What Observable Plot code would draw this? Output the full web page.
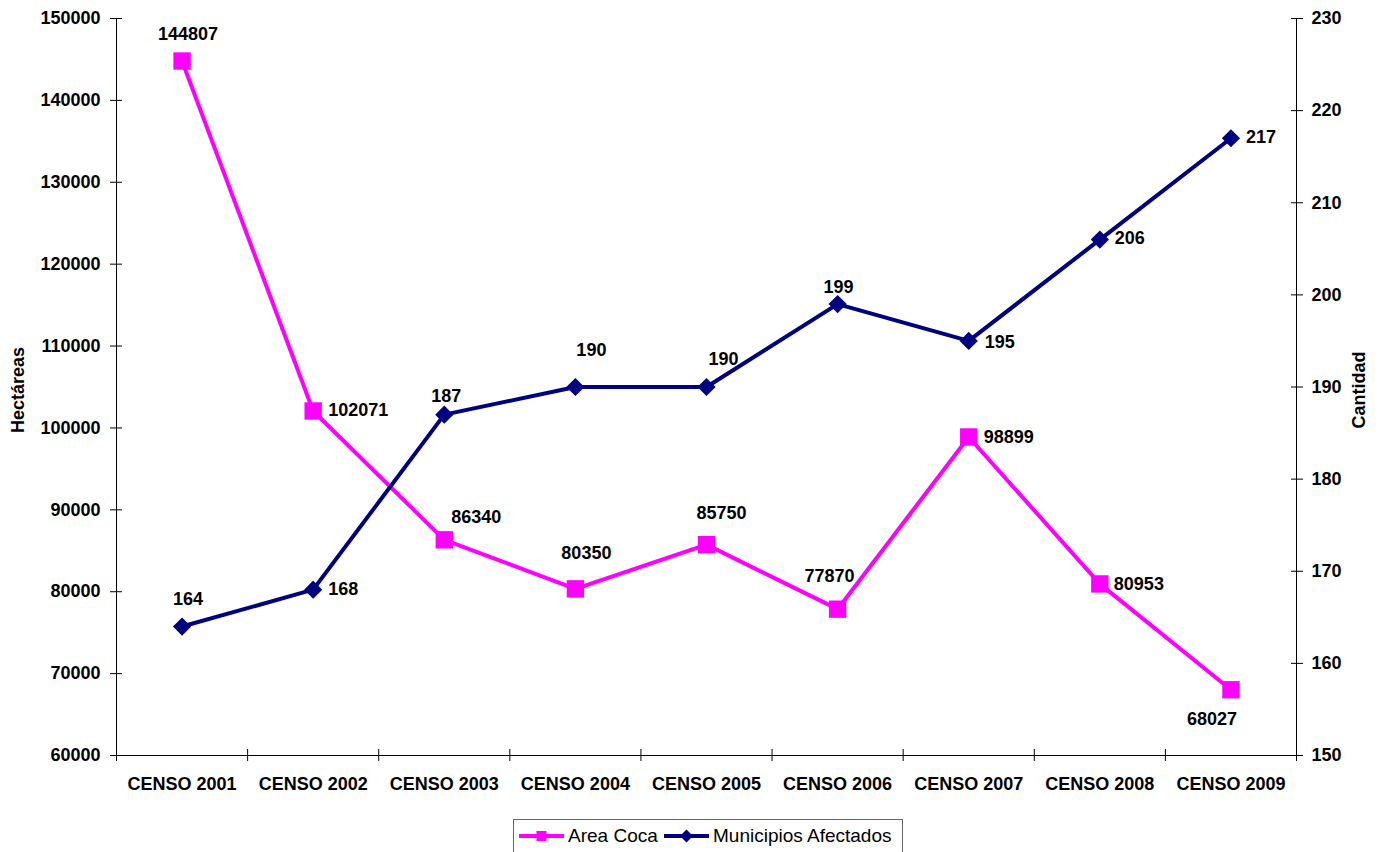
<!DOCTYPE html>
<html>
<head>
<meta charset="utf-8">
<script src="https://cdn.jsdelivr.net/npm/d3@7"></script>
<script src="https://cdn.jsdelivr.net/npm/@observablehq/plot@0.6"></script>
<style>
  html, body { margin: 0; padding: 0; background: #fff; }
  #wrap { position: relative; width: 1384px; height: 852px; overflow: hidden; font-family: "Liberation Sans", Arial, sans-serif; }
  #legend { position: absolute; left: 513px; top: 819px; width: 390px; height: 44px; box-sizing: border-box;
            border: 1px solid #666; background: #fff; }
  #legend .item { position: absolute; top: 4px; height: 24px; display: flex; align-items: center; font-size: 19px; color: #000; white-space: nowrap; }
  #legend svg { display: block; margin-right: 4px; }
</style>
</head>
<body>
<div id="wrap">
  <div id="chart"></div>
  <div id="legend"></div>
</div>
<script>
// ---- data ----
const categories = ["CENSO 2001", "CENSO 2002", "CENSO 2003", "CENSO 2004", "CENSO 2005", "CENSO 2006", "CENSO 2007", "CENSO 2008", "CENSO 2009"];
const areaCoca = [144807, 102071, 86340, 80350, 85750, 77870, 98899, 80953, 68027];
const municipios = [164, 168, 187, 190, 190, 199, 195, 206, 217];
const leftTicks = [60000, 70000, 80000, 90000, 100000, 110000, 120000, 130000, 140000, 150000];
const rightTicks = [150, 160, 170, 180, 190, 200, 210, 220, 230];
const seriesNames = ["Area Coca", "Municipios Afectados"];

// label placement (anchor, dx, dy) – layout only
const cocaLabelPlacement = [["middle", 6, -27], ["start", 15, -1], ["middle", 32, -23], ["middle", 11, -36], ["middle", 15, -31], ["middle", -8, -33], ["start", 15, 0], ["start", 14, 0], ["middle", -19, 29]];
const muniLabelPlacement = [["middle", 6, -27], ["start", 15, 0], ["middle", 2, -18], ["middle", 16, -37], ["middle", 17, -28], ["middle", 1, -17], ["start", 16, 1], ["start", 15, -1], ["start", 15, -1]];

const MAGENTA = "#FF00FF";
const NAVY = "#000080";

// secondary axis mapping onto the primary scale
const L0 = leftTicks[0], L1 = leftTicks[leftTicks.length - 1];
const R0 = rightTicks[0], R1 = rightTicks[rightTicks.length - 1];
const toLeft = v => L0 + (v - R0) * (L1 - L0) / (R1 - R0);
const fromLeft = v => R0 + (v - L0) * (R1 - R0) / (L1 - L0);

const cocaData = categories.map((c, i) => ({i, cat: c, value: areaCoca[i], y: areaCoca[i], anchor: cocaLabelPlacement[i][0], dx: cocaLabelPlacement[i][1], dy: cocaLabelPlacement[i][2]}));
const muniData = categories.map((c, i) => ({i, cat: c, value: municipios[i], y: toLeft(municipios[i]), anchor: muniLabelPlacement[i][0], dx: muniLabelPlacement[i][1], dy: muniLabelPlacement[i][2]}));

const xc = d => d.i + 0.5;

function labelMarks(data) {
  const marks = [];
  for (const d of data) {
    marks.push(Plot.text([d], {x: xc, y: "y", text: d => String(d.value), textAnchor: d.anchor, dx: d.dx, dy: d.dy, fill: "#000", fontWeight: "bold", fontSize: 18}));
  }
  return marks;
}

const n = categories.length;
const chart = Plot.plot({
  width: 1384,
  height: 812,
  marginLeft: 116,
  marginRight: 88,
  marginTop: 18,
  marginBottom: 57,
  style: {fontFamily: "'Liberation Sans', Arial, sans-serif", fontSize: "18px", fontWeight: "bold", color: "#000", background: "#fff", overflow: "visible"},
  x: {type: "linear", domain: [0, n]},
  y: {type: "linear", domain: [L0, L1]},
  marks: [
    // axis frame lines
    Plot.ruleX([0, n], {stroke: "#000", strokeWidth: 1}),
    Plot.ruleY([L0], {stroke: "#000", strokeWidth: 1}),
    // left axis
    Plot.axisY({anchor: "left", ticks: leftTicks, tickSize: 12, dx: 6, tickPadding: 10, tickFormat: d => String(d), label: null, fontWeight: "bold", fontSize: 18}),
    // right axis
    Plot.axisY({anchor: "right", ticks: rightTicks.map(toLeft), tickSize: 12, dx: -6, tickPadding: 9, tickFormat: d => String(Math.round(fromLeft(d))), label: null, fontWeight: "bold", fontSize: 18}),
    // x tick marks at category boundaries
    Plot.axisX({anchor: "bottom", ticks: d3.range(0, n + 1), tickSize: 12, dy: -6, tickFormat: () => "", label: null}),
    // category labels
    Plot.axisX({anchor: "bottom", ticks: d3.range(n).map(i => i + 0.5), tickSize: 0, tickPadding: 22, tickFormat: d => categories[Math.floor(d)], label: null, fontWeight: "bold", fontSize: 18}),
    // axis titles
    Plot.text(["Hectáreas"], {frameAnchor: "left", textAnchor: "middle", lineAnchor: "middle", rotate: -90, dx: -98, dy: 3, fontWeight: "bold", fontSize: 18, fill: "#000"}),
    Plot.text(["Cantidad"], {frameAnchor: "right", textAnchor: "middle", lineAnchor: "middle", rotate: -90, dx: 63, dy: 3, fontWeight: "bold", fontSize: 18, fill: "#000"}),
    // Area Coca
    Plot.line(cocaData, {x: xc, y: "y", stroke: MAGENTA, strokeWidth: 4}),
    Plot.dot(cocaData, {x: xc, y: "y", symbol: "square", r: 9.8, fill: MAGENTA, stroke: "none"}),
    // Municipios
    Plot.line(muniData, {x: xc, y: "y", stroke: NAVY, strokeWidth: 4}),
    Plot.dot(muniData, {x: xc, y: "y", symbol: "diamond2", r: 8.2, fill: NAVY, stroke: "none"}),
    ...labelMarks(cocaData),
    ...labelMarks(muniData)
  ]
});
document.getElementById("chart").appendChild(chart);

// ---- legend ----
const legend = d3.select("#legend");
const items = [
  {name: seriesNames[0], color: MAGENTA, shape: "square", left: 5},
  {name: seriesNames[1], color: NAVY, shape: "diamond", left: 150}
];
for (const it of items) {
  const item = legend.append("div").attr("class", "item").style("left", it.left + "px");
  const s = item.append("svg").attr("width", 45).attr("height", 24);
  s.append("line").attr("x1", 0).attr("x2", 45).attr("y1", 12).attr("y2", 12).attr("stroke", it.color).attr("stroke-width", 4);
  if (it.shape === "square") {
    s.append("rect").attr("x", 17.5).attr("y", 7).attr("width", 10).attr("height", 10).attr("fill", it.color);
  } else {
    s.append("path").attr("d", "M22.5,5.5L29,12L22.5,18.5L16,12Z").attr("fill", it.color);
  }
  item.append("span").text(it.name);
}
</script>
</body>
</html>
